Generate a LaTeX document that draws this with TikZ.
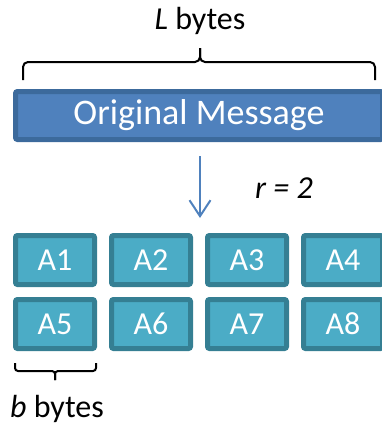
\documentclass[tikz,border=0pt]{standalone}
\usepackage{fontspec}
\setmainfont{Carlito}
\usetikzlibrary{shapes,arrows.meta}

\definecolor{msgFill}{HTML}{4F81BD}
\definecolor{msgEdge}{HTML}{3C6A9C}
\definecolor{blkFill}{HTML}{4BACC6}
\definecolor{blkEdge}{HTML}{357F93}

\tikzstyle{blockMSG} = [rectangle, draw=msgEdge, fill=msgFill, line width=5pt, rounded corners=2pt, minimum width=367pt, minimum height=48pt, text=white, font=\fontsize{36}{36}\selectfont]
\tikzstyle{blockPKT} = [rectangle, draw=blkEdge, fill=blkFill, line width=5pt, rounded corners=2pt, minimum width=79pt, minimum height=49pt, text=white, font=\fontsize{32}{32}\selectfont]
\tikzstyle{labelTX} = [anchor=base, inner sep=0pt, font=\fontsize{32}{32}\selectfont]
\tikzstyle{brace} = [draw, line width=2pt, rounded corners=5pt]
\tikzstyle{line} = [draw, msgFill, line width=2pt, -{Straight Barb[length=16pt,width=21pt,line width=2pt]}]

\begin{document}
\begin{tikzpicture}[x=1pt, y=-1pt, node distance=96pt]
    \clip (0,0) rectangle (382,426);

    % message
    \node [blockMSG] (msg) at (199,115.5) {Original Message};
    \node [labelTX] (lbl_L) at (200,29) {\textit{L} bytes};

    % packets
    \node [blockPKT] (A1) at (55,260) {A1};
    \node [blockPKT, right of = A1] (A2) {A2};
    \node [blockPKT, right of = A2] (A3) {A3};
    \node [blockPKT, right of = A3] (A4) {A4};
    \node [blockPKT, below of = A1, node distance = 64pt] (A5) {A5};
    \node [blockPKT, right of = A5] (A6) {A6};
    \node [blockPKT, right of = A6] (A7) {A7};
    \node [blockPKT, right of = A7] (A8) {A8};
    \node [labelTX] (lbl_b) at (57,417) {\textit{b} bytes};
    \node [labelTX] (lbl_r) at (284,198) {\textit{r = 2}};

    % edges
    \coordinate (split) at (200,218);
    \path [line] ([xshift=1pt,yshift=-14pt]msg.south) -- (split);

    % braces
    \path [brace] (23,80) -- (23,62) -- (200,62) -- (200,48);
    \path [brace] (375,80) -- (375,62) -- (200,62) -- (200,48);
    \path [brace, rounded corners=3pt] (15,363) -- (15,371) -- (55,371) -- (55,380);
    \path [brace, rounded corners=3pt] (96,363) -- (96,371) -- (55,371) -- (55,380);
\end{tikzpicture}
\end{document}
